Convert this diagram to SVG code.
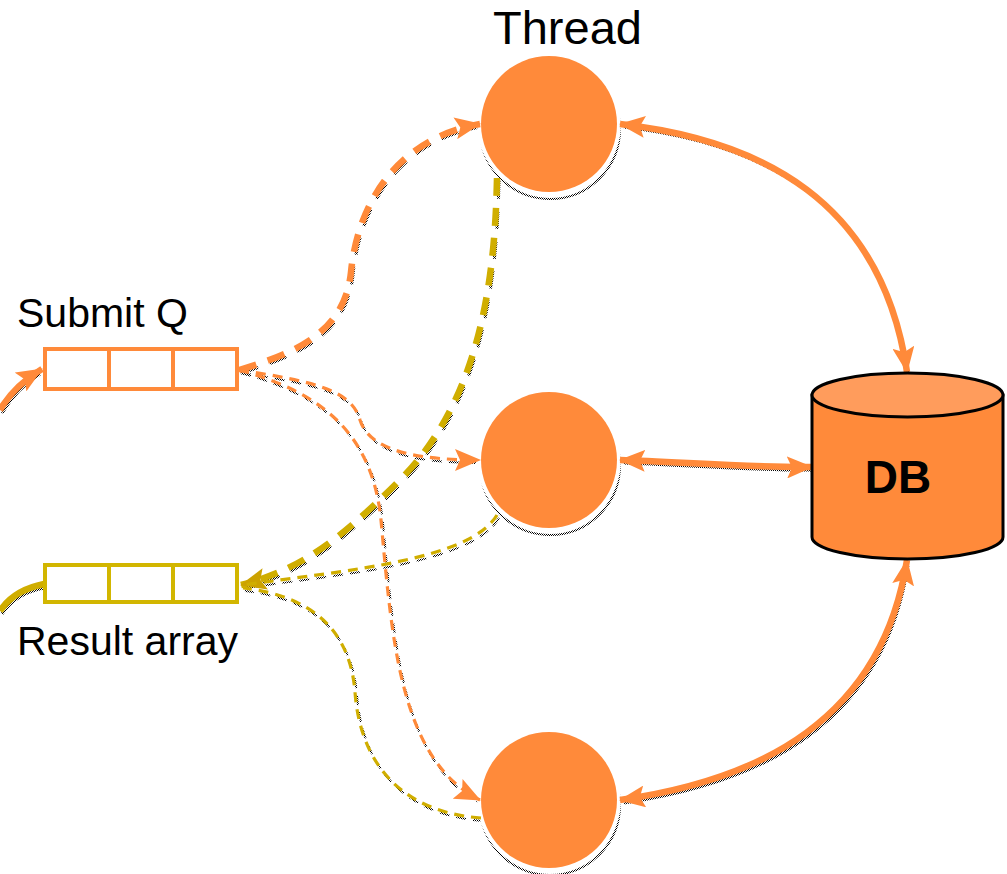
<svg xmlns="http://www.w3.org/2000/svg" width="1007" height="874" viewBox="0 0 1007 874">
  <style>
    .lbl { font-family: "Liberation Sans", Arial, sans-serif; fill: #000; }
    .thread { fill: #FF8A3A; }
    .halo { fill: #fff; }
    .cshadow { fill: none; stroke: url(#dither); stroke-width: 2; }
    .box { fill: #fff; stroke-width: 4; }
    .q-sub { stroke: #FF8A3A; }
    .q-res { stroke: #D2B600; }
    .sh-solid { fill: none; stroke: url(#dither); stroke-width: 3; }
    .sh-thick { fill: none; stroke: url(#dither); stroke-width: 3; stroke-dasharray: 18 12; }
    .sh-thin { fill: none; stroke: url(#dither); stroke-width: 2; stroke-dasharray: 10 7; }
    .or { fill: none; stroke: #FF8A3A; }
    .ol { fill: none; stroke: #D0AE00; }
    .solid { stroke-width: 6.5; }
    .thick-dash { stroke-width: 6.5; stroke-dasharray: 18 12; }
    .thin-dash { stroke-width: 3.2; stroke-dasharray: 10 7; }
  </style>
  <defs>
    <pattern id="dither" width="2" height="2" patternUnits="userSpaceOnUse">
      <rect x="0" y="0" width="1" height="1" fill="#000"/>
      <rect x="1" y="1" width="1" height="1" fill="#000"/>
    </pattern>
    <marker id="ahO" markerUnits="userSpaceOnUse" viewBox="0 0 26 22" refX="25" refY="11" markerWidth="26" markerHeight="22" orient="auto-start-reverse">
      <path d="M0,0 L26,11 L0,22 L5,11 Z" fill="#FF8A3A"/>
    </marker>
    <marker id="ahY" markerUnits="userSpaceOnUse" viewBox="0 0 26 22" refX="25" refY="11" markerWidth="26" markerHeight="22" orient="auto-start-reverse">
      <path d="M0,0 L26,11 L0,22 L5,11 Z" fill="#CCA200"/>
    </marker>
  </defs>

  <!-- connector shadows (dithered, offset) -->
  <g id="connector-shadows" transform="translate(2,3)">
    <path class="sh-solid" d="M0,410 Q 14,386 38,371"/>
    <path class="sh-solid" d="M0,611 Q 14,590 42,585"/>
    <path class="sh-thick" d="M239,370 C 300,352 345,330 351,272 C 358,200 400,138 478,124"/>
    <path class="sh-thin" d="M239,370 C 320,382 352,392 360,420 C 370,452 420,460 478,460"/>
    <path class="sh-thin" d="M239,370 C 320,392 372,432 381,520 C 392,640 400,760 478,800"/>
    <path class="sh-thick" d="M497,178 C 495,280 480,400 400,480 C 340,540 300,570 243,585"/>
    <path class="sh-thin" d="M497,515 C 470,560 350,570 243,585"/>
    <path class="sh-thin" d="M481,818 C 400,812 360,762 355,692 C 350,630 312,596 243,588"/>
    <path class="sh-solid" d="M622,124 C 760,140 882,200 906,370"/>
    <path class="sh-solid" d="M622,460 C 680,462 760,468 810,467"/>
    <path class="sh-solid" d="M622,800 C 760,780 882,720 906,562"/>
  </g>

  <!-- thread nodes -->
  <g id="thread-top">
    <circle class="cshadow" cx="550" cy="129" r="70"/>
    <circle class="halo" cx="549" cy="124" r="72"/>
    <circle class="thread" cx="549" cy="124" r="68"/>
  </g>
  <g id="thread-mid">
    <circle class="cshadow" cx="550" cy="465" r="70"/>
    <circle class="halo" cx="549" cy="460" r="72"/>
    <circle class="thread" cx="549" cy="460" r="68"/>
  </g>
  <g id="thread-bottom">
    <circle class="cshadow" cx="550" cy="805" r="70"/>
    <circle class="halo" cx="549" cy="800" r="72"/>
    <circle class="thread" cx="549" cy="800" r="68"/>
  </g>

  <!-- connectors -->
  <g id="connectors">
    <!-- incoming work and outgoing results -->
    <path class="or solid" marker-end="url(#ahO)" d="M0,410 Q 14,386 42,369"/>
    <path class="ol solid" d="M0,611 Q 14,590 44,584"/>
    <!-- submit queue to threads -->
    <path class="or thick-dash" marker-end="url(#ahO)" d="M239,370 C 300,352 345,330 351,272 C 358,200 400,138 480,124"/>
    <path class="or thin-dash" marker-end="url(#ahO)" d="M239,370 C 320,382 352,392 360,420 C 370,452 420,460 480,460"/>
    <path class="or thin-dash" marker-end="url(#ahO)" d="M239,370 C 320,392 372,432 381,520 C 392,640 400,760 480,800"/>
    <!-- threads to result array -->
    <path class="ol thick-dash" marker-end="url(#ahY)" d="M497,178 C 495,280 480,400 400,480 C 340,540 300,570 241,585"/>
    <path class="ol thin-dash" d="M497,515 C 470,560 350,570 243,585"/>
    <path class="ol thin-dash" d="M481,818 C 400,812 360,762 355,692 C 350,630 312,596 243,588"/>
    <!-- threads to database -->
    <path class="or solid" marker-start="url(#ahO)" marker-end="url(#ahO)" d="M620,124 C 760,140 882,200 907,372"/>
    <path class="or solid" marker-start="url(#ahO)" marker-end="url(#ahO)" d="M620,460 C 680,462 760,468 812,467"/>
    <path class="or solid" marker-start="url(#ahO)" marker-end="url(#ahO)" d="M620,800 C 760,780 882,720 907,560"/>
  </g>

  <!-- submit queue -->
  <g id="submit-q">
    <rect class="box q-sub" x="45" y="349" width="192" height="40"/>
    <line class="q-sub" stroke-width="4" x1="109" y1="349" x2="109" y2="389"/>
    <line class="q-sub" stroke-width="4" x1="173" y1="349" x2="173" y2="389"/>
    <text class="lbl" x="17" y="327" font-size="41">Submit Q</text>
  </g>

  <!-- result array -->
  <g id="result-array">
    <rect class="box q-res" x="45" y="565" width="192" height="37"/>
    <line class="q-res" stroke-width="4" x1="109" y1="565" x2="109" y2="602"/>
    <line class="q-res" stroke-width="4" x1="173" y1="565" x2="173" y2="602"/>
    <text class="lbl" x="17" y="655" font-size="41">Result array</text>
  </g>

  <!-- thread caption -->
  <g id="thread-label">
    <text class="lbl" x="493" y="44" font-size="47">Thread</text>
  </g>

  <!-- database -->
  <g id="db">
    <path d="M812,395 L812,537 A95.5,22 0 0 0 1003,537 L1003,395 Z" fill="#FF8A3A" stroke="#000" stroke-width="3"/>
    <ellipse cx="907.5" cy="395" rx="95.5" ry="22" fill="#FF9C5C" stroke="#000" stroke-width="3"/>
    <text class="lbl" x="898" y="493" font-size="46" font-weight="bold" text-anchor="middle">DB</text>
  </g>
</svg>
